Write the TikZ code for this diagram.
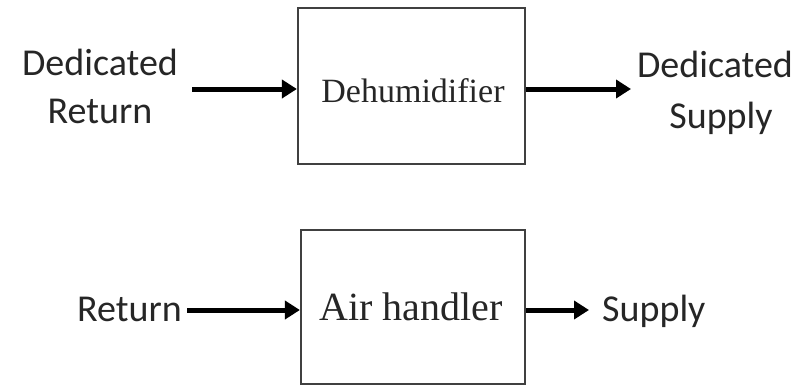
\documentclass[tikz,border=0pt]{standalone}
\usepackage{fontspec}
\setmainfont{Carlito}
\newfontfamily\boxfont{Liberation Serif}
\usetikzlibrary{arrows.meta}
\begin{document}
\begin{tikzpicture}[x=1pt,y=-1pt,
  lbl/.style={font=\fontsize{38}{46}\selectfont, text=black!85, inner sep=0pt, align=center},
  blk/.style={draw=black!75, line width=2.2pt, inner sep=0pt},
  arr/.style={line width=5pt, -{Triangle[length=15pt,width=18pt]}}]
\useasboundingbox (0,0) rectangle (808,386);
% boxes
\node[blk, minimum width=227pt, minimum height=156pt] (dh) at (411.5,86) {};
\node[font=\boxfont\fontsize{34}{40}\selectfont, text=black!85, anchor=base] (dht) at (413,102) {Dehumidifier};
\node[blk, minimum width=224pt, minimum height=154pt] (ah) at (413,307) {};
\node[font=\boxfont\fontsize{40}{46}\selectfont, text=black!85, anchor=base] (aht) at (411,320) {Air handler};
% labels
\node[lbl, anchor=base] (dret1) at (100,75) {Dedicated};
\node[lbl, anchor=base] (dret2) at (100,123) {Return};
\node[lbl, anchor=base] (dsup1) at (715,77) {Dedicated};
\node[lbl, anchor=base] (dsup2) at (721,128) {Supply};
\node[lbl, anchor=base west] (ret) at (77,321) {Return};
\node[lbl, anchor=base west] (sup) at (602,321) {Supply};
% arrows
\coordinate (a1) at (192,89);
\coordinate (a2) at (631,89);
\draw[arr] (a1) -- (a1 -| dh.west);
\draw[arr] (a2 -| dh.east) -- (a2);
\coordinate (b1) at (187,310);
\coordinate (b2) at (589,310);
\draw[arr] (b1) -- (b1 -| ah.west);
\draw[arr] (b2 -| ah.east) -- (b2);
\end{tikzpicture}
\end{document}
